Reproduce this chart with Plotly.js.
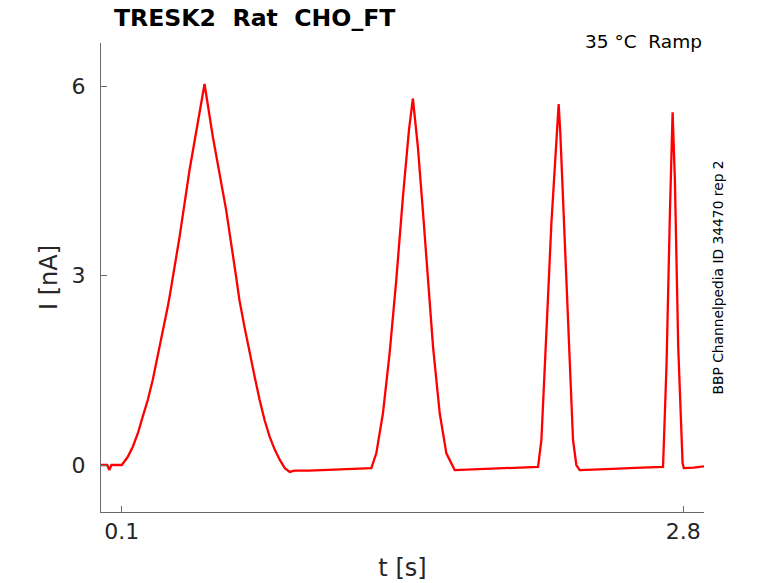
<!DOCTYPE html>
<html>
<head>
<meta charset="utf-8">
<script src="https://cdn.plot.ly/plotly-3.0.1.min.js"></script>
<style>
  html, body { margin: 0; padding: 0; background: #fff; }
  #chart { width: 778px; height: 583px; }
</style>
</head>
<body>
<div id="chart"></div>
<script>
const tValues = [
  0.0, 0.03, 0.04, 0.05, 0.1,
  0.129, 0.153, 0.177, 0.201, 0.225, 0.249, 0.273, 0.297, 0.321,
  0.33, 0.378, 0.426, 0.474, 0.498,
  0.538, 0.602, 0.65, 0.666, 0.69, 0.715, 0.739, 0.763, 0.787,
  0.811, 0.836, 0.86, 0.884, 0.908, 0.931,
  1.0, 1.1, 1.2, 1.3,
  1.324, 1.356, 1.388, 1.42, 1.452, 1.481, 1.5,
  1.524, 1.549, 1.573, 1.597, 1.629, 1.661, 1.701,
  1.773, 1.85, 1.95, 2.05, 2.102,
  2.118, 2.134, 2.15, 2.166, 2.182, 2.193, 2.201,
  2.209, 2.222, 2.239, 2.254, 2.27, 2.286, 2.302,
  2.4, 2.5, 2.6, 2.703,
  2.72, 2.736, 2.749,
  2.76, 2.776, 2.797, 2.803,
  2.85, 2.9
];
const currentValues = [
  0.0, 0.0, -0.08, 0.0, 0.0,
  0.13, 0.29, 0.5, 0.77, 1.03, 1.35, 1.72, 2.11, 2.51,
  2.67, 3.62, 4.68, 5.63, 6.04,
  5.2, 4.04, 2.98, 2.61, 2.19, 1.77, 1.4, 1.03, 0.71,
  0.45, 0.24, 0.08, -0.05, -0.11, -0.09,
  -0.09, -0.08, -0.07, -0.05,
  0.185, 0.82, 1.77, 2.93, 4.25, 5.31, 5.81,
  5.04, 3.99, 2.93, 1.87, 0.82, 0.185, -0.08,
  -0.07, -0.06, -0.05, -0.04, -0.03,
  0.4, 1.45, 2.67, 3.83, 4.73, 5.42, 5.72,
  5.26, 4.2, 2.77, 1.45, 0.4, 0.0, -0.08,
  -0.07, -0.05, -0.04, -0.03,
  1.61, 3.99, 5.59,
  4.52, 1.87, 0.03, -0.05,
  -0.04, -0.02
];
const xTicks = [0.1, 2.8];
const xTickText = ['0.1', '2.8'];
const yTicks = [0, 3, 6];
const yTickText = ['0', '3', '6'];

const font = 'DejaVu Sans, sans-serif';
const axisColor = '#6a6a6a';
const textColor = '#262626';

const trace = {
  x: tValues,
  y: currentValues,
  type: 'scatter',
  mode: 'lines',
  line: { color: '#ff0000', width: 2.3 },
  hoverinfo: 'skip'
};

const layout = {
  width: 778,
  height: 583,
  margin: { l: 101, r: 74, t: 43, b: 71 },
  paper_bgcolor: '#ffffff',
  plot_bgcolor: '#ffffff',
  showlegend: false,
  font: { family: font, color: textColor },
  title: {
    text: '<b>TRESK2  Rat  CHO_FT</b>',
    font: { family: font, size: 23.6, color: '#000000' },
    xref: 'container', x: 0.1465, xanchor: 'left',
    yref: 'container', y: 0.969, yanchor: 'middle'
  },
  xaxis: {
    range: [0, 2.9],
    tickvals: xTicks,
    ticktext: xTickText,
    ticks: 'inside',
    ticklen: 6,
    tickcolor: axisColor,
    showline: true,
    linecolor: axisColor,
    linewidth: 1,
    showgrid: false,
    zeroline: false,
    tickfont: { family: font, size: 22, color: textColor },
    title: { text: 't [s]', font: { family: font, size: 24, color: textColor }, standoff: 15 }
  },
  yaxis: {
    range: [-0.745, 6.69],
    tickvals: yTicks,
    ticktext: yTickText,
    ticks: 'inside',
    ticklen: 6,
    tickcolor: axisColor,
    showline: true,
    linecolor: axisColor,
    linewidth: 1,
    showgrid: false,
    zeroline: false,
    ticklabelstandoff: 10,
    tickfont: { family: font, size: 22, color: textColor },
    title: { text: 'I [nA]', font: { family: font, size: 24, color: textColor }, standoff: 7 }
  },
  annotations: [
    {
      text: '35 °C  Ramp',
      xref: 'paper', yref: 'paper',
      x: 1, y: 1, xanchor: 'right', yanchor: 'top',
      yshift: 14,
      showarrow: false,
      font: { family: font, size: 18.5, color: '#000000' }
    },
    {
      text: 'BBP Channelpedia ID 34470 rep 2',
      xref: 'paper', yref: 'paper',
      x: 1, y: 0.5, xanchor: 'left', yanchor: 'middle',
      xshift: 3,
      textangle: -90,
      showarrow: false,
      font: { family: font, size: 13.8, color: '#000000' }
    }
  ]
};

Plotly.newPlot('chart', [trace], layout, { displayModeBar: false, staticPlot: true });
</script>
</body>
</html>
